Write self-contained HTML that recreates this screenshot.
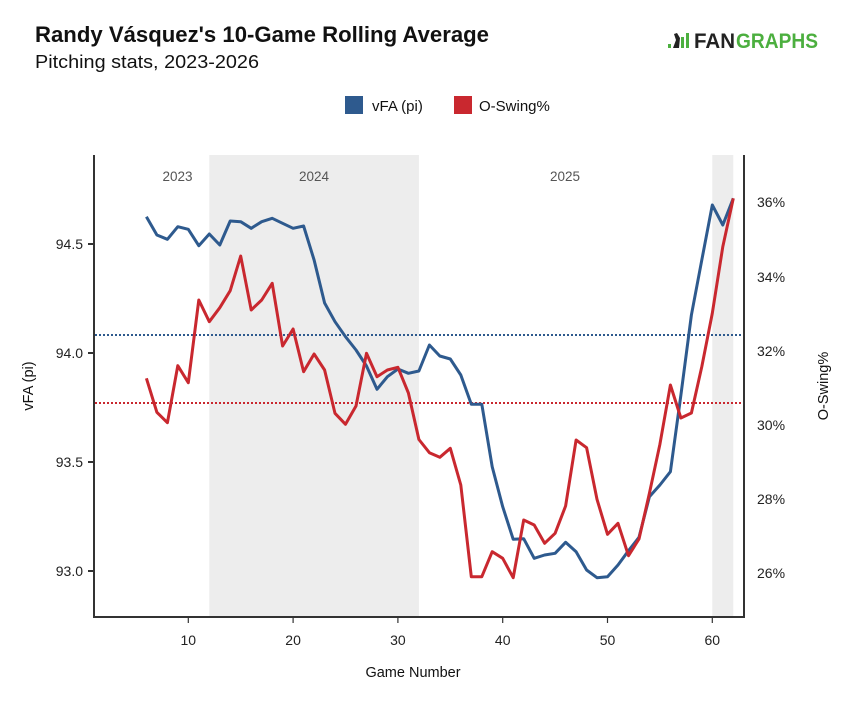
<!DOCTYPE html>
<html><head><meta charset="utf-8"><style>
html,body{margin:0;padding:0;background:#fff;}
svg{display:block;font-family:"Liberation Sans",sans-serif;}
</style></head><body>
<svg width="848" height="710" viewBox="0 0 848 710" xmlns="http://www.w3.org/2000/svg">
<rect width="848" height="710" fill="#fff"/>
<!-- Title -->
<text x="35" y="42" font-size="22" font-weight="bold" fill="#111" textLength="454" lengthAdjust="spacingAndGlyphs">Randy Vásquez's 10-Game Rolling Average</text>
<text x="35" y="68" font-size="18" fill="#111" textLength="224" lengthAdjust="spacingAndGlyphs">Pitching stats, 2023-2026</text>
<!-- Logo -->
<g>
<rect x="668" y="44" width="3" height="4" fill="#4caf3f"/>
<path d="M673 48 L676 40 L674 34 L677 33 L680 38 L679 48 Z" fill="#222"/>
<rect x="681" y="37" width="3" height="11" fill="#4caf3f"/>
<rect x="686" y="33" width="3" height="15" fill="#4caf3f"/>
<text x="694" y="48" font-size="21" font-weight="bold" fill="#222" textLength="41" lengthAdjust="spacingAndGlyphs">FAN</text>
<text x="736" y="48" font-size="21" font-weight="bold" fill="#4caf3f" textLength="82" lengthAdjust="spacingAndGlyphs">GRAPHS</text>
</g>
<!-- Legend -->
<rect x="345" y="96" width="18" height="18" fill="#2e5a8e"/>
<text x="372" y="111" font-size="15" fill="#111">vFA (pi)</text>
<rect x="454" y="96" width="18" height="18" fill="#c9282f"/>
<text x="479" y="111" font-size="15" fill="#111">O-Swing%</text>
<!-- Shading -->
<rect x="209.3" y="155" width="209.6" height="462" fill="#ededed"/>
<rect x="712.3" y="155" width="21" height="462" fill="#ededed"/>
<text x="177.5" y="181" font-size="13.5" fill="#555" text-anchor="middle">2023</text>
<text x="314" y="181" font-size="13.5" fill="#555" text-anchor="middle">2024</text>
<text x="565" y="181" font-size="13.5" fill="#555" text-anchor="middle">2025</text>
<!-- Average lines -->
<line x1="95" y1="335" x2="743" y2="335" stroke="#2e5a8e" stroke-width="2" stroke-dasharray="2,2"/>
<line x1="95" y1="403" x2="743" y2="403" stroke="#c9282f" stroke-width="2" stroke-dasharray="2,2"/>
<!-- Series -->
<polyline fill="none" stroke="#2e5a8e" stroke-width="3" stroke-linejoin="round" points="146.4,216.7 156.9,235 167.4,239.3 177.8,226.7 188.3,229.3 198.8,245.7 209.3,234 219.8,245 230.2,221 240.7,221.7 251.2,228.3 261.7,221.7 272.2,218.3 282.6,223.3 293.1,228.3 303.6,226 314.1,260 324.6,303 335,321.7 345.5,336.7 356,350 366.5,366 377,389.3 387.4,376.7 397.9,369 408.4,373.3 418.9,371 429.4,345 439.8,356 450.3,359 460.8,375 471.3,404.3 481.8,404.3 492.2,466.7 502.7,506.7 513.2,539.3 523.7,538.7 534.2,558.3 544.6,555 555.1,553.3 565.6,542.3 576.1,551.7 586.6,570 597,577.7 607.5,576.7 618,565 628.5,550.7 639,537.3 649.4,496.7 659.9,485 670.4,471.7 680.9,395 691.4,315 701.8,260 712.3,205 722.8,225 733.3,198.3"/>
<polyline fill="none" stroke="#c9282f" stroke-width="3" stroke-linejoin="round" points="146.4,378.3 156.9,412.3 167.4,422.7 177.8,365.7 188.3,382.7 198.8,300 209.3,321.7 219.8,307.7 230.2,290.7 240.7,256 251.2,310 261.7,300 272.2,283.3 282.6,346 293.1,329 303.6,371.7 314.1,354 324.6,370 335,413.3 345.5,424.3 356,406 366.5,353.3 377,376.7 387.4,370 397.9,367.3 408.4,393 418.9,439.5 429.4,452.7 439.8,457.3 450.3,448.3 460.8,485 471.3,576.7 481.8,576.7 492.2,551.7 502.7,558.3 513.2,577.7 523.7,520 534.2,525 544.6,543.3 555.1,533.3 565.6,506 576.1,440 586.6,447.7 597,499.3 607.5,534.3 618,523.3 628.5,555.7 639,539 649.4,493.3 659.9,444.3 670.4,385 680.9,418 691.4,413 701.8,366.7 712.3,313.3 722.8,246.7 733.3,198.3"/>
<!-- Axes -->
<g stroke="#333" stroke-width="2" fill="none">
<line x1="94" y1="155" x2="94" y2="617"/>
<line x1="744" y1="155" x2="744" y2="617"/>
<line x1="93" y1="617" x2="745" y2="617"/>
<line x1="88" y1="244" x2="94" y2="244"/>
<line x1="88" y1="353" x2="94" y2="353"/>
<line x1="88" y1="462" x2="94" y2="462"/>
<line x1="88" y1="571" x2="94" y2="571"/>
</g>
<g stroke="#333" stroke-width="1.2">
<line x1="188.3" y1="617" x2="188.3" y2="623"/>
<line x1="293.1" y1="617" x2="293.1" y2="623"/>
<line x1="397.9" y1="617" x2="397.9" y2="623"/>
<line x1="502.7" y1="617" x2="502.7" y2="623"/>
<line x1="607.5" y1="617" x2="607.5" y2="623"/>
<line x1="712.3" y1="617" x2="712.3" y2="623"/>
</g>
<!-- Left tick labels -->
<g font-size="14" fill="#222" text-anchor="end">
<text x="83" y="249">94.5</text>
<text x="83" y="358">94.0</text>
<text x="83" y="467">93.5</text>
<text x="83" y="576">93.0</text>
</g>
<!-- Right tick labels -->
<g font-size="14" fill="#222">
<text x="757" y="207">36%</text>
<text x="757" y="282">34%</text>
<text x="757" y="356">32%</text>
<text x="757" y="430">30%</text>
<text x="757" y="504">28%</text>
<text x="757" y="578">26%</text>
</g>
<!-- X tick labels -->
<g font-size="14" fill="#222" text-anchor="middle">
<text x="188.3" y="645">10</text>
<text x="293.1" y="645">20</text>
<text x="397.9" y="645">30</text>
<text x="502.7" y="645">40</text>
<text x="607.5" y="645">50</text>
<text x="712.3" y="645">60</text>
</g>
<text x="413" y="677" font-size="14.5" fill="#111" text-anchor="middle">Game Number</text>
<text transform="translate(33,386) rotate(-90)" font-size="14.5" fill="#111" text-anchor="middle">vFA (pi)</text>
<text transform="translate(828,386) rotate(-90)" font-size="14.5" fill="#111" text-anchor="middle">O-Swing%</text>
</svg>
</body></html>
